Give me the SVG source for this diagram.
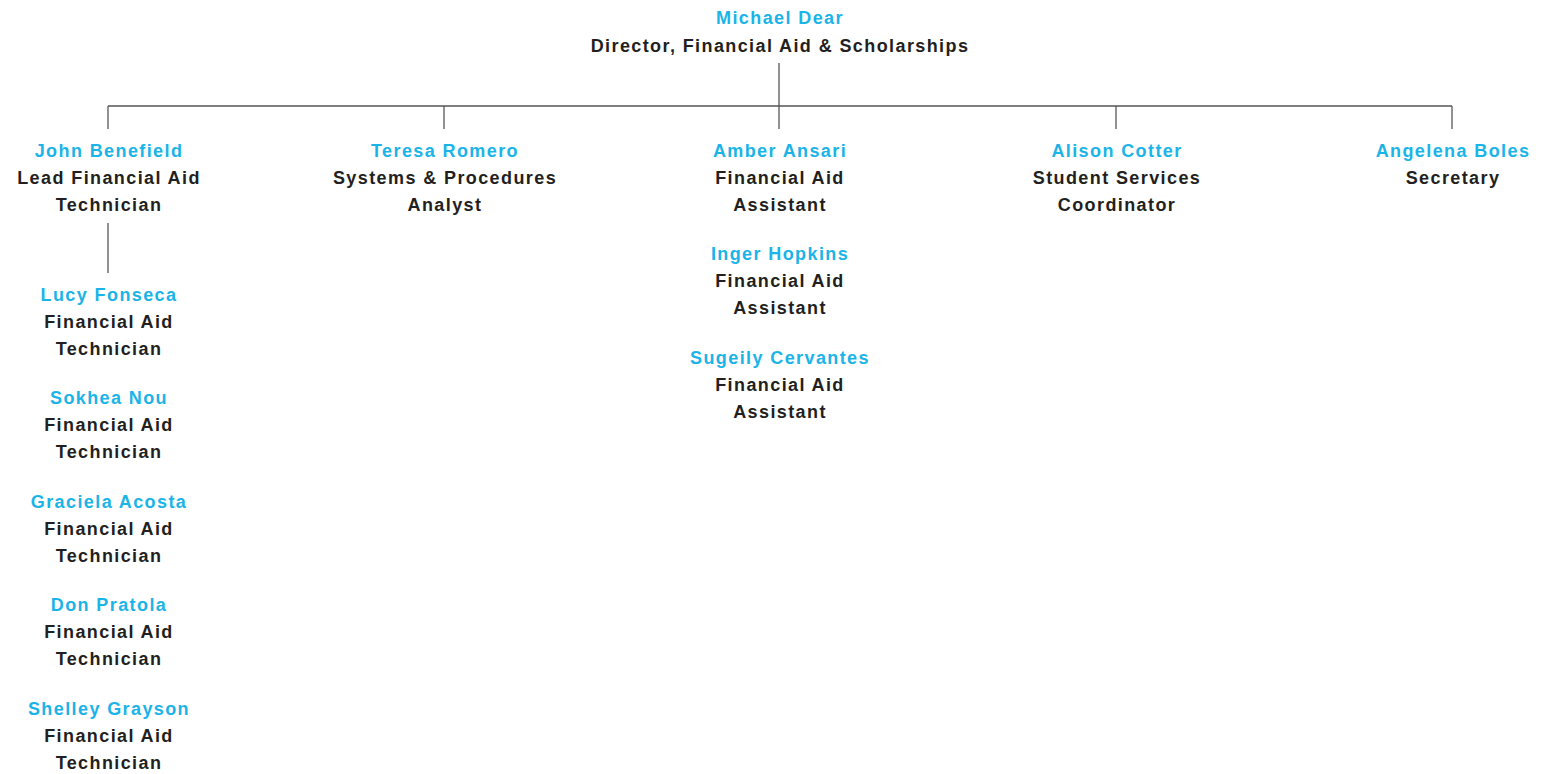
<svg xmlns="http://www.w3.org/2000/svg" width="1543" height="774" viewBox="0 0 1543 774">
<style>
text{font-family:"Liberation Sans",Arial,sans-serif;font-size:18px;text-anchor:middle;font-weight:bold;letter-spacing:1.4px}
.n{fill:#1ab4e8}
.t{fill:#231f20}
.c line{stroke:#555;stroke-width:1.3}
</style>
<rect width="1543" height="774" fill="#fff"/>
<g class="c" id="connectors">
<line x1="779" y1="63" x2="779" y2="106"/>
<line x1="108" y1="106" x2="1452" y2="106"/>
<line x1="108" y1="106" x2="108" y2="129"/>
<line x1="444" y1="106" x2="444" y2="129"/>
<line x1="779" y1="106" x2="779" y2="129"/>
<line x1="1116" y1="106" x2="1116" y2="129"/>
<line x1="1452" y1="106" x2="1452" y2="129"/>
<line x1="108" y1="223" x2="108" y2="273"/>
</g>
<g id="michael-dear"><text x="780" y="24" class="n">Michael Dear</text><text x="780" y="52" class="t">Director, Financial Aid &amp; Scholarships</text></g>
<g id="john-benefield"><text x="109" y="157" class="n">John Benefield</text><text x="109" y="184" class="t">Lead Financial Aid</text><text x="109" y="211" class="t">Technician</text></g>
<g id="teresa-romero"><text x="445" y="157" class="n">Teresa Romero</text><text x="445" y="184" class="t">Systems &amp; Procedures</text><text x="445" y="211" class="t">Analyst</text></g>
<g id="amber-ansari"><text x="780" y="157" class="n">Amber Ansari</text><text x="780" y="184" class="t">Financial Aid</text><text x="780" y="211" class="t">Assistant</text></g>
<g id="alison-cotter"><text x="1117" y="157" class="n">Alison Cotter</text><text x="1117" y="184" class="t">Student Services</text><text x="1117" y="211" class="t">Coordinator</text></g>
<g id="angelena-boles"><text x="1453" y="157" class="n">Angelena Boles</text><text x="1453" y="184" class="t">Secretary</text></g>
<g id="inger-hopkins"><text x="780" y="260" class="n">Inger Hopkins</text><text x="780" y="287" class="t">Financial Aid</text><text x="780" y="314" class="t">Assistant</text></g>
<g id="sugeily-cervantes"><text x="780" y="364" class="n">Sugeily Cervantes</text><text x="780" y="391" class="t">Financial Aid</text><text x="780" y="418" class="t">Assistant</text></g>
<g id="lucy-fonseca"><text x="109" y="301" class="n">Lucy Fonseca</text><text x="109" y="328" class="t">Financial Aid</text><text x="109" y="355" class="t">Technician</text></g>
<g id="sokhea-nou"><text x="109" y="404" class="n">Sokhea Nou</text><text x="109" y="431" class="t">Financial Aid</text><text x="109" y="458" class="t">Technician</text></g>
<g id="graciela-acosta"><text x="109" y="508" class="n">Graciela Acosta</text><text x="109" y="535" class="t">Financial Aid</text><text x="109" y="562" class="t">Technician</text></g>
<g id="don-pratola"><text x="109" y="611" class="n">Don Pratola</text><text x="109" y="638" class="t">Financial Aid</text><text x="109" y="665" class="t">Technician</text></g>
<g id="shelley-grayson"><text x="109" y="715" class="n">Shelley Grayson</text><text x="109" y="742" class="t">Financial Aid</text><text x="109" y="769" class="t">Technician</text></g>
</svg>
